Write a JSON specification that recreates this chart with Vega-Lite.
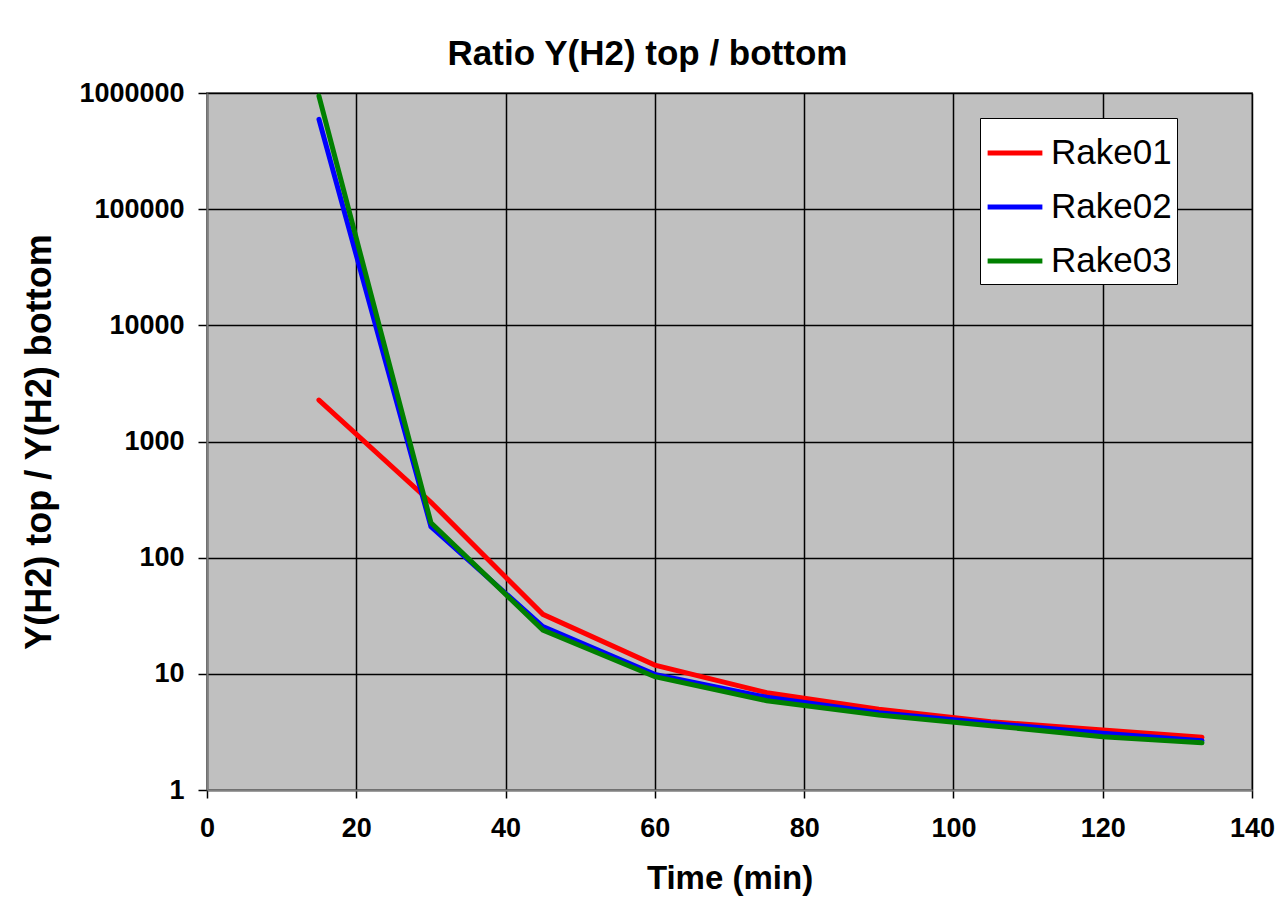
{
  "$schema": "https://vega.github.io/schema/vega-lite/v6.json",
  "autosize": {"type": "none"},
  "width": 1045,
  "height": 697,
  "padding": {"left": 207, "top": 93, "right": 26, "bottom": 114},
  "background": "white",
  "title": {
    "text": "Ratio Y(H2) top / bottom",
    "font": "Liberation Sans",
    "fontSize": 35,
    "fontWeight": "bold",
    "color": "black",
    "anchor": "middle",
    "dx": -82,
    "offset": 7
  },
  "config": {
    "view": {"fill": "#C0C0C0", "stroke": "#808080", "strokeWidth": 2},
    "font": "Liberation Sans"
  },
  "data": {
    "values": [
      {"t": 15, "series": "Rake01", "ratio": 2275},
      {"t": 30, "series": "Rake01", "ratio": 300},
      {"t": 45, "series": "Rake01", "ratio": 32.5},
      {"t": 60, "series": "Rake01", "ratio": 11.9},
      {"t": 75, "series": "Rake01", "ratio": 6.88},
      {"t": 90, "series": "Rake01", "ratio": 4.95},
      {"t": 105, "series": "Rake01", "ratio": 3.87},
      {"t": 120, "series": "Rake01", "ratio": 3.28},
      {"t": 133.3, "series": "Rake01", "ratio": 2.84},
      {"t": 15, "series": "Rake02", "ratio": 593000},
      {"t": 30, "series": "Rake02", "ratio": 185},
      {"t": 45, "series": "Rake02", "ratio": 25.5},
      {"t": 60, "series": "Rake02", "ratio": 9.9},
      {"t": 75, "series": "Rake02", "ratio": 6.28},
      {"t": 90, "series": "Rake02", "ratio": 4.63},
      {"t": 105, "series": "Rake02", "ratio": 3.75},
      {"t": 120, "series": "Rake02", "ratio": 3.08},
      {"t": 133.3, "series": "Rake02", "ratio": 2.66},
      {"t": 15, "series": "Rake03", "ratio": 942000},
      {"t": 30, "series": "Rake03", "ratio": 200},
      {"t": 45, "series": "Rake03", "ratio": 23.8},
      {"t": 60, "series": "Rake03", "ratio": 9.45},
      {"t": 75, "series": "Rake03", "ratio": 5.87},
      {"t": 90, "series": "Rake03", "ratio": 4.42},
      {"t": 105, "series": "Rake03", "ratio": 3.58},
      {"t": 120, "series": "Rake03", "ratio": 2.88},
      {"t": 133.3, "series": "Rake03", "ratio": 2.55}
    ]
  },
  "mark": {"type": "line", "strokeWidth": 5, "strokeCap": "round", "strokeJoin": "miter", "clip": true},
  "encoding": {
    "x": {
      "field": "t",
      "type": "quantitative",
      "scale": {"domain": [0, 140], "nice": false, "zero": false},
      "axis": {
        "title": "Time (min)",
        "values": [0, 20, 40, 60, 80, 100, 120, 140],
        "grid": true,
        "gridColor": "black",
        "gridWidth": 1.5,
        "gridOpacity": 1,
        "domainColor": "#808080",
        "domainWidth": 2,
        "tickColor": "black",
        "tickSize": 8,
        "tickWidth": 1.5,
        "labelFont": "Liberation Sans",
        "labelFontSize": 27,
        "labelFontWeight": "bold",
        "labelColor": "black",
        "labelPadding": 17,
        "labelFlush": false,
        "titleFont": "Liberation Sans",
        "titleFontSize": 33,
        "titleFontWeight": "bold",
        "titleColor": "black",
        "titlePadding": 21
      }
    },
    "y": {
      "field": "ratio",
      "type": "quantitative",
      "scale": {"type": "log", "domain": [1, 1000000], "nice": false},
      "axis": {
        "title": "Y(H2) top / Y(H2) bottom",
        "values": [1, 10, 100, 1000, 10000, 100000, 1000000],
        "format": "d",
        "grid": true,
        "gridColor": "black",
        "gridWidth": 1.5,
        "gridOpacity": 1,
        "domainColor": "#808080",
        "domainWidth": 2,
        "tickColor": "black",
        "tickSize": 9,
        "tickWidth": 1.5,
        "labelFont": "Liberation Sans",
        "labelFontSize": 27,
        "labelFontWeight": "bold",
        "labelColor": "black",
        "labelPadding": 14,
        "labelFlush": false,
        "titleFont": "Liberation Sans",
        "titleFontSize": 36,
        "titleFontWeight": "bold",
        "titleColor": "black",
        "titlePadding": 20
      }
    },
    "color": {
      "field": "series",
      "type": "nominal",
      "scale": {"domain": ["Rake01", "Rake02", "Rake03"], "range": ["#FF0000", "#0000FF", "#008000"]},
      "legend": {
        "title": null,
        "orient": "none",
        "legendX": 773,
        "legendY": 25,
        "fillColor": "white",
        "strokeColor": "black",
        "padding": 5,
        "symbolType": "stroke",
        "symbolStrokeWidth": 5,
        "symbolSize": 3000,
        "labelFont": "Liberation Sans",
        "labelFontSize": 35,
        "labelColor": "black",
        "labelOffset": 6,
        "rowPadding": 6
      }
    }
  }
}
